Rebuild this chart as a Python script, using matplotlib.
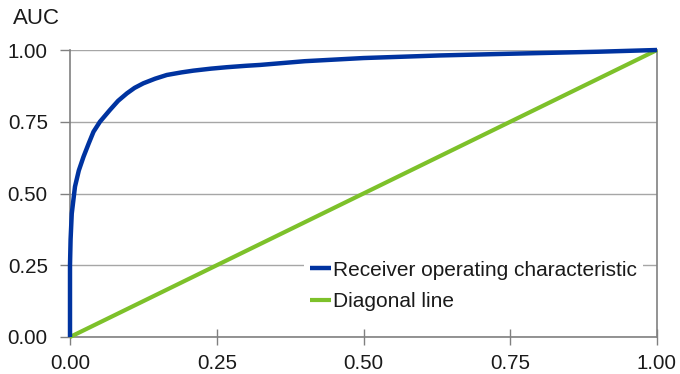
import matplotlib
matplotlib.use("Agg")
import matplotlib.pyplot as plt

plt.rcParams['font.family'] = ['Liberation Sans', 'DejaVu Sans']

# Data
roc_fpr = [0.0, 0.0, 0.001, 0.003, 0.0085, 0.015, 0.023, 0.032, 0.04, 0.051, 0.068, 0.082,
           0.097, 0.11, 0.125, 0.145, 0.165, 0.19, 0.21, 0.24, 0.267, 0.3, 0.324, 0.4,
           0.5, 0.63, 0.75, 0.9, 1.0]
roc_tpr = [0.0, 0.25, 0.34, 0.43, 0.524, 0.58, 0.628, 0.675, 0.715, 0.75, 0.791, 0.823,
           0.849, 0.868, 0.884, 0.90, 0.913, 0.922, 0.928, 0.935, 0.94, 0.945, 0.948, 0.961,
           0.972, 0.981, 0.987, 0.994, 1.0]
diag = [0.0, 1.0]
ticks = [0.0, 0.25, 0.5, 0.75, 1.0]
tick_labels = ["0.00", "0.25", "0.50", "0.75", "1.00"]
roc_label = "Receiver operating characteristic"
diag_label = "Diagonal line"
y_title = "AUC"

blue = "#0033A0"
green = "#7DC12A"
txt = "#1a1a1a"

fig = plt.figure(figsize=(6.8, 3.74), dpi=100)
ax = fig.add_axes([70/680, 1-337/374, 587/680, 287/374])

ax.plot(roc_fpr, roc_tpr, color=blue, lw=3.2, label=roc_label, clip_on=False, zorder=4,
        solid_capstyle='butt')
ax.plot(diag, diag, color=green, lw=3.0, label=diag_label, clip_on=False, zorder=3,
        solid_capstyle='butt')

ax.set_xlim(0, 1)
ax.set_ylim(0, 1)
ax.set_xticks(ticks)
ax.set_xticklabels(tick_labels)
ax.set_yticks(ticks)
ax.set_yticklabels(tick_labels)
ax.tick_params(axis='x', direction='inout', length=12, width=1, color='#808080',
               labelsize=14.8, pad=6, labelcolor=txt)
ax.tick_params(axis='y', direction='out', length=7, width=1, color='#808080',
               labelsize=14.8, pad=9, labelcolor=txt)

ax.yaxis.grid(True, color='#A6A6A6', lw=1)
ax.set_axisbelow(True)
ax.spines['top'].set_visible(False)
for s in ['left', 'bottom', 'right']:
    ax.spines[s].set_color('#808080')
    ax.spines[s].set_linewidth(1.2)

fig.text(13/680, 1-19/374, y_title, fontsize=16, va='center', ha='left', color=txt)

leg = ax.legend(loc='lower right', bbox_to_anchor=(0.977, 0.068), frameon=True,
                fancybox=False, edgecolor='none', facecolor='white', framealpha=1,
                fontsize=15, handlelength=1.0, handletextpad=0.1, labelspacing=0.6,
                borderpad=0.3, borderaxespad=0)
for t in leg.get_texts():
    t.set_color(txt)

fig.savefig("out.png", dpi=100)
